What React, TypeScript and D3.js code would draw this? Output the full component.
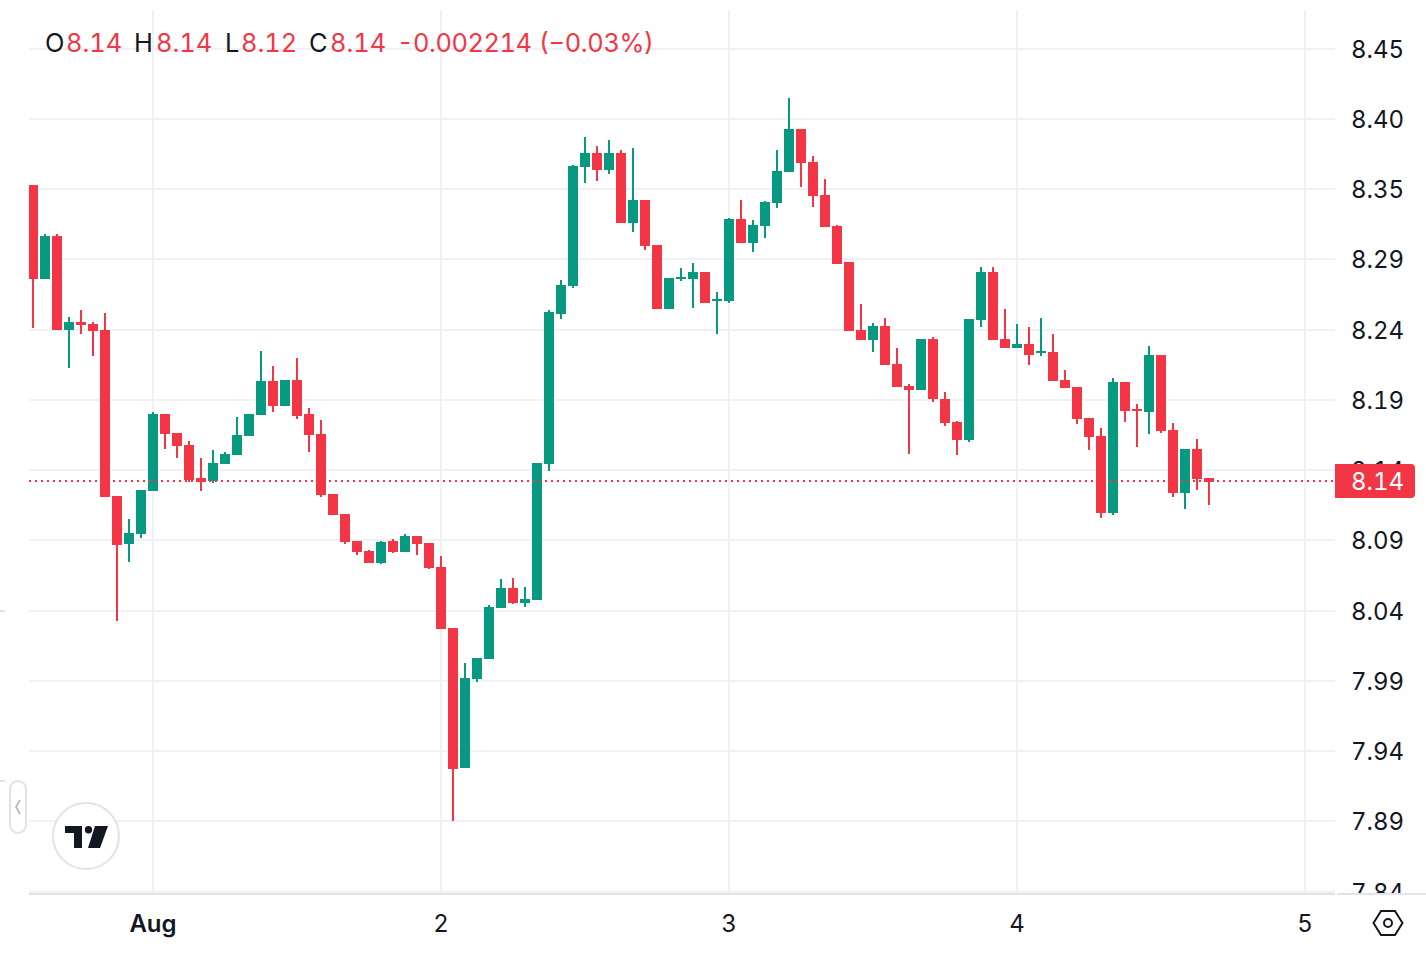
import React from "react";
import * as d3 from "d3";

// hourly candles, first bar is 10 hours before Aug 1 00:00
const firstHour = -10;
const opens = [
  8.3515, 8.2834, 8.3145, 8.2464, 8.2522, 8.2508, 8.2464, 8.1262, 8.0914, 8.0986,
  8.1298, 8.1856, 8.1718, 8.1631, 8.1392, 8.137, 8.1493, 8.1559, 8.1696, 8.1848,
  8.2095, 8.1914, 8.2102, 8.1856, 8.1711, 8.1276, 8.1131, 8.0936, 8.0863, 8.0776,
  8.0936, 8.0856, 8.0972, 8.0921, 8.0747, 8.0305, 7.9291, 7.9936, 8.0081, 8.045,
  8.0595, 8.0486, 8.0508, 8.1493, 8.258, 8.2783, 8.3645, 8.3746, 8.3623, 8.3746,
  8.3239, 8.3406, 8.308, 8.2616, 8.2834, 8.2834, 8.2884, 8.2674, 8.2674, 8.3268,
  8.3095, 8.3218, 8.3384, 8.3609, 8.392, 8.3681, 8.3442, 8.3218, 8.2957, 8.2464,
  8.2392, 8.2493, 8.2218, 8.2059, 8.203, 8.2399, 8.1964, 8.1798, 8.1667, 8.2537,
  8.2884, 8.2399, 8.2334, 8.2363, 8.2298, 8.2305, 8.2102, 8.2051, 8.1827, 8.1696,
  8.1138, 8.2088, 8.1892, 8.187, 8.2283, 8.174, 8.1283, 8.1602, 8.1392,
];
const highs = [
  8.3515, 8.316, 8.316, 8.2558, 8.2609, 8.2522, 8.2587, 8.1262, 8.1095, 8.1305,
  8.187, 8.1856, 8.1718, 8.166, 8.1537, 8.1595, 8.158, 8.1834, 8.1856, 8.2312,
  8.2203, 8.2102, 8.2261, 8.1899, 8.1812, 8.1276, 8.1131, 8.0936, 8.087, 8.0936,
  8.095, 8.0986, 8.0972, 8.0921, 8.0827, 8.0305, 8.0052, 8.0088, 8.0472, 8.066,
  8.0668, 8.0602, 8.1501, 8.2609, 8.2827, 8.366, 8.3862, 8.3797, 8.3841, 8.3768,
  8.3783, 8.3406, 8.308, 8.2841, 8.2913, 8.295, 8.2884, 8.274, 8.3276, 8.3406,
  8.3261, 8.3399, 8.3768, 8.4145, 8.392, 8.3725, 8.3558, 8.3225, 8.2957, 8.2653,
  8.2515, 8.2551, 8.2334, 8.2073, 8.2399, 8.2414, 8.2015, 8.1805, 8.2544, 8.2921,
  8.2921, 8.2616, 8.2508, 8.2486, 8.2551, 8.2435, 8.2174, 8.2051, 8.1827, 8.1754,
  8.2117, 8.2088, 8.1928, 8.2348, 8.2283, 8.179, 8.1602, 8.1675, 8.1392,
];
const lows = [
  8.2479, 8.2834, 8.2464, 8.2189, 8.2435, 8.2276, 8.1254, 8.0356, 8.0784, 8.0957,
  8.1298, 8.1602, 8.1537, 8.1363, 8.1298, 8.1356, 8.1493, 8.1559, 8.1696, 8.1848,
  8.187, 8.1914, 8.1819, 8.158, 8.1254, 8.1124, 8.0914, 8.0834, 8.0776, 8.0769,
  8.0849, 8.0856, 8.0834, 8.0733, 8.0298, 7.8907, 7.9291, 7.9914, 8.0081, 8.045,
  8.0479, 8.0457, 8.0508, 8.1443, 8.2544, 8.2769, 8.3529, 8.3544, 8.3594, 8.3239,
  8.3174, 8.3044, 8.2616, 8.2616, 8.2819, 8.2624, 8.266, 8.2435, 8.266, 8.3095,
  8.3029, 8.3131, 8.3348, 8.3609, 8.35, 8.3355, 8.321, 8.2942, 8.2457, 8.2392,
  8.2305, 8.2211, 8.2051, 8.1566, 8.203, 8.1943, 8.1769, 8.1559, 8.1653, 8.2486,
  8.2392, 8.2334, 8.2334, 8.2211, 8.2276, 8.2095, 8.2044, 8.1783, 8.1595, 8.1102,
  8.1124, 8.1798, 8.1617, 8.1711, 8.1718, 8.1254, 8.1168, 8.1305, 8.1197,
];
const closes = [
  8.2834, 8.3145, 8.2464, 8.2522, 8.25, 8.2457, 8.1254, 8.0907, 8.0994, 8.1305,
  8.1856, 8.1711, 8.1624, 8.1378, 8.1363, 8.1501, 8.1566, 8.1704, 8.1856, 8.2095,
  8.1914, 8.2102, 8.1841, 8.1704, 8.1269, 8.1124, 8.0928, 8.0856, 8.0776, 8.0928,
  8.0856, 8.0972, 8.0914, 8.074, 8.0298, 7.9284, 7.9943, 8.0088, 8.0457, 8.0595,
  8.0486, 8.0515, 8.1501, 8.2595, 8.279, 8.3652, 8.3746, 8.3623, 8.3746, 8.3239,
  8.3406, 8.3073, 8.2616, 8.2841, 8.2848, 8.2884, 8.266, 8.2689, 8.3268, 8.3095,
  8.3225, 8.3392, 8.3616, 8.392, 8.3674, 8.3435, 8.321, 8.2942, 8.2457, 8.2392,
  8.2493, 8.2211, 8.2051, 8.203, 8.2399, 8.1964, 8.179, 8.1667, 8.2544, 8.2884,
  8.2392, 8.2334, 8.2363, 8.2283, 8.2312, 8.2095, 8.2044, 8.1819, 8.1689, 8.1138,
  8.2088, 8.1877, 8.1877, 8.2283, 8.1733, 8.1283, 8.1602, 8.1385, 8.1363,
];
const lastPrice = 8.137;

const priceLabels = ["8.45", "8.40", "8.35", "8.29", "8.24", "8.19", "8.14", "8.09", "8.04", "7.99", "7.94", "7.89", "7.84"];
const dayHours = [0, 24, 48, 72, 96];
const dayLabels = ["Aug", "2", "3", "4", "5"];
// text + x position of the legend row
const legendNames = ["O", "H", "L", "C"];
const legendValues = ["8.14", "8.14", "8.12", "8.14"];
const legendNameX = [45, 134, 225, 309];
const legendValueX = [66, 156, 241, 330];

const W = 1426;
const H = 958;
const FONT = "Inter, 'Noto Sans', sans-serif";
const RED = "#f23645";
const GREEN = "#089981";
const GRID = "#f0f1f4";
const BORDER = "#e0e3eb";
const TEXT = "#131722";

const plotLeft = 29;
const plotRight = 1335;
const plotBottom = 893;

const xScale = d3.scaleLinear().domain([0, 24]).range([153, 441]);
const yScale = d3.scaleLinear().domain([7.84, 8.45]).range([891, 49]);
// labels on the price axis are rounded, so they are placed evenly
const tickScale = d3.scalePoint<string>().domain(priceLabels).range([48.6, 891.6]);
const tickY = (d: string) => Math.round(tickScale(d) as number);

const App = () => {
  const y = (v: number) => Math.round(yScale(v));
  return (
    <svg
      width={W}
      height={H}
      style={{
        position: "absolute",
        left: 0,
        top: 0,
        display: "block",
        background: "#fff",
        fontFamily: FONT,
        fontFeatureSettings: "'tnum' 1",
      }}
    >
      <defs>
        <clipPath id="plot">
          <rect x={plotLeft} y={0} width={plotRight - plotLeft} height={plotBottom} />
        </clipPath>
        <clipPath id="priceAxis">
          <rect x={plotRight} y={0} width={W - plotRight} height={plotBottom} />
        </clipPath>
      </defs>

      {/* grid */}
      {priceLabels.map((d) => (
        <line key={d} x1={plotLeft} x2={plotRight} y1={tickY(d)} y2={tickY(d)} stroke={GRID} strokeWidth={2} />
      ))}
      {dayHours.map((d) => (
        <line key={d} x1={xScale(d)} x2={xScale(d)} y1={10} y2={plotBottom} stroke={GRID} strokeWidth={2} />
      ))}

      {/* candles */}
      <g clipPath="url(#plot)">
        {opens.map((open, i) => {
          const cx = xScale(firstHour + i);
          const up = closes[i] > open;
          const top = y(Math.max(open, closes[i]));
          const bottom = y(Math.min(open, closes[i]));
          const color = up ? GREEN : RED;
          return (
            <g key={i} fill={color}>
              <rect x={cx - 1} y={y(highs[i])} width={2} height={y(lows[i]) - y(highs[i])} />
              <rect x={cx - 5} y={top} width={10} height={Math.max(bottom - top, 1)} />
            </g>
          );
        })}
      </g>

      {/* last price line */}
      <line
        x1={plotLeft}
        x2={plotRight}
        y1={y(lastPrice)}
        y2={y(lastPrice)}
        stroke={RED}
        strokeWidth={2}
        strokeDasharray="2 4"
      />

      {/* price axis */}
      <g clipPath="url(#priceAxis)" fontSize={24} fill={TEXT}>
        {priceLabels.map((d) => (
          <text key={d} x={1351} y={tickY(d) + 9}>
            {d}
          </text>
        ))}
      </g>
      <path d="M1335 464H1411a4 4 0 0 1 4 4V494a4 4 0 0 1 -4 4H1335Z" fill={RED} />
      <text x={1351} y={490} fontSize={24} fill="#fff">
        {d3.format(".2f")(lastPrice)}
      </text>

      {/* bottom border */}
      <rect x={plotLeft} y={893} width={plotRight - plotLeft} height={2} fill={BORDER} />
      <rect x={1337} y={893} width={W - 1337} height={2} fill={BORDER} />

      {/* time axis */}
      {dayHours.map((d, i) => (
        <text
          key={d}
          x={xScale(d)}
          y={932}
          fontSize={24}
          textAnchor="middle"
          fill={TEXT}
          fontWeight={dayLabels[i] === "Aug" ? 600 : 400}
        >
          {dayLabels[i]}
        </text>
      ))}

      {/* legend */}
      <g fontSize={25.4}>
        {legendNames.map((d, i) => (
          <React.Fragment key={d}>
            <text x={legendNameX[i]} y={52} fill={TEXT}>
              {d}
            </text>
            <text x={legendValueX[i]} y={52} fill={RED}>
              {legendValues[i]}
            </text>
          </React.Fragment>
        ))}
        <text x={397} y={52} fill={RED} textLength={135}>
          -0.002214
        </text>
        <text x={539} y={52} fill={RED} textLength={115}>
          (−0.03%)
        </text>
      </g>

      {/* pane separators stubs on the far left */}
      <rect x={0} y={610} width={5} height={2} fill={BORDER} />
      <rect x={0} y={780} width={5} height={2} fill={BORDER} />

      {/* collapse button */}
      <rect x={10} y={781} width={16} height={52} rx={8} fill="#fff" stroke={BORDER} strokeWidth={2} />
      <path d="M20 800L16 807L20 814" fill="none" stroke="#b2b5be" strokeWidth={1.6} />

      {/* logo */}
      <circle cx={86} cy={836} r={33} fill="#fff" stroke={BORDER} strokeWidth={2} />
      <path d="M65 826H82V848H74V833H65Z" fill={TEXT} />
      <circle cx={88.5} cy={829.7} r={3.7} fill={TEXT} />
      <path d="M95 826H108L100 848H88Z" fill={TEXT} />

      {/* settings icon */}
      <path d="M1373.5 923L1381 911H1395L1402.5 923L1395 935H1381Z" fill="none" stroke={TEXT} strokeWidth={2} />
      <circle cx={1388} cy={923} r={4} fill="none" stroke={TEXT} strokeWidth={2} />
    </svg>
  );
};

export default App;
